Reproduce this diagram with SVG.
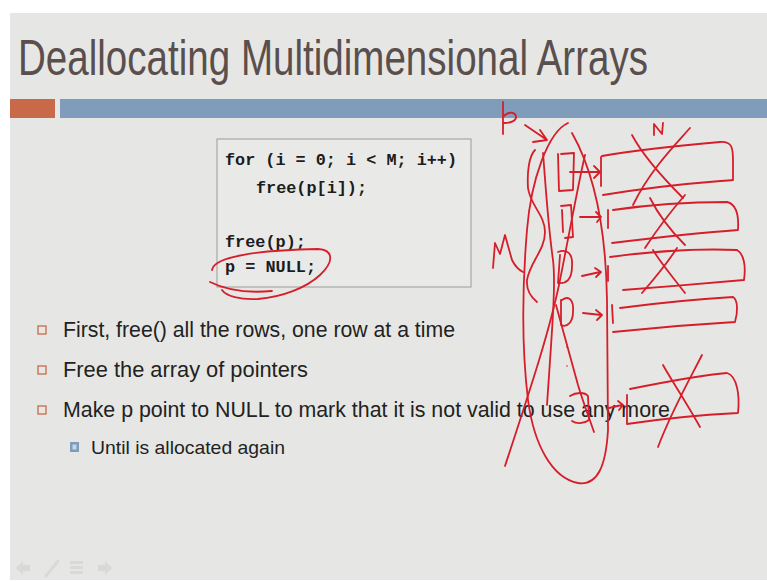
<svg xmlns="http://www.w3.org/2000/svg" width="767" height="581" viewBox="0 0 767 581">
  <style>
    .title { font-family: "Liberation Sans", Arial, sans-serif; font-size: 50px; fill: #5a4f4c; }
    .code { font-family: "Liberation Mono", "Courier New", monospace; font-size: 17px; font-weight: bold; fill: #1c1c1c; }
    .body { font-family: "Liberation Sans", Arial, sans-serif; font-size: 22px; fill: #222; }
    .sub { font-family: "Liberation Sans", Arial, sans-serif; font-size: 19px; fill: #222; }
    .bullet { fill: none; stroke: #c8694a; stroke-width: 1.3; }
    .ink { fill: none; stroke: #d61e2a; stroke-width: 1.8; stroke-linecap: round; stroke-linejoin: round; }
    .nav { fill: #d9dad8; }
  </style>

  <!-- page and slide background -->
  <rect x="0" y="0" width="767" height="581" fill="#ffffff"/>
  <rect x="10" y="13" width="757" height="567" fill="#e6e7e4"/>

  <g id="title">
    <!-- condensed heading: horizontally scaled so it spans x 18..648 -->
    <text class="title" transform="matrix(0.75 0 0 1 18 75)" x="0" y="0" textLength="840" lengthAdjust="spacingAndGlyphs">Deallocating Multidimensional Arrays</text>
  </g>

  <g id="header-bars">
    <rect x="10" y="99" width="45" height="19" fill="#c8694a"/>
    <rect x="60" y="99" width="707" height="19" fill="#7f9dba"/>
  </g>

  <g id="code-box">
    <rect x="217" y="139" width="254" height="148" fill="#e9eae8" stroke="#9a9a9a" stroke-width="1"/>
    <text class="code" x="225" y="165" textLength="232" lengthAdjust="spacingAndGlyphs">for (i = 0; i &lt; M; i++)</text>
    <text class="code" x="256" y="193" textLength="111" lengthAdjust="spacingAndGlyphs">free(p[i]);</text>
    <text class="code" x="225" y="247" textLength="81" lengthAdjust="spacingAndGlyphs">free(p);</text>
    <text class="code" x="225" y="272" textLength="91" lengthAdjust="spacingAndGlyphs">p = NULL;</text>
  </g>

  <g id="bullets">
    <rect class="bullet" x="38" y="326" width="8" height="8"/>
    <text class="body" x="63" y="337" textLength="392" lengthAdjust="spacingAndGlyphs">First, free() all the rows, one row at a time</text>
    <rect class="bullet" x="38" y="366" width="8" height="8"/>
    <text class="body" x="63" y="377" textLength="245" lengthAdjust="spacingAndGlyphs">Free the array of pointers</text>
    <rect class="bullet" x="38" y="406" width="8" height="8"/>
    <text class="body" x="63" y="417" textLength="607" lengthAdjust="spacingAndGlyphs">Make p point to NULL to mark that it is not valid to use any more</text>
    <rect x="70" y="442" width="9" height="10" fill="#7f9dba"/>
    <rect x="72.5" y="444.5" width="4" height="5" fill="#c9d5e2"/>
    <text class="sub" x="91" y="454" textLength="194" lengthAdjust="spacingAndGlyphs">Until is allocated again</text>
  </g>

  <g id="nav-icons">
    <path class="nav" d="M16,568 L23,561 L23,565 L30,565 L30,571 L23,571 L23,575 Z"/>
    <path d="M46,576 L58,561" stroke="#d9dad8" stroke-width="3" stroke-linecap="round"/>
    <rect class="nav" x="70" y="561" width="13" height="3"/>
    <rect class="nav" x="70" y="566" width="13" height="3"/>
    <rect class="nav" x="70" y="571" width="13" height="3"/>
    <path class="nav" d="M112,568 L105,561 L105,565 L98,565 L98,571 L105,571 L105,575 Z"/>
  </g>

  <!-- hand-drawn red annotations -->
  <g id="null-circle">
    <path class="ink" d="M212,270 C214,256 262,250 318,249 C334,250 334,262 320,275 C306,288 282,297 258,299 C240,300 226,296 222,290"/>
    <path class="ink" d="M210,282 C228,291 250,293 272,291"/>
  </g>

  <g id="pointer-label">
    <path class="ink" d="M503,102 L503,134 M503,117 C507,112 514,111 516,116 C517,121 510,123 504,123"/>
    <path class="ink" d="M525,125 L547,140 M533,142 L547,140 L540,130"/>
  </g>

  <g id="dimension-labels">
    <path class="ink" d="M493,268 L495,243 L500,254 L505,235 L512,260 C515,266 519,270 523,272"/>
    <path class="ink" d="M654,135 L654,124 L662,134 L663,123"/>
  </g>

  <g id="pointer-array">
    <!-- enclosing oval -->
    <path class="ink" d="M568,123 C548,132 531,180 527,230 C522,290 522,350 528,400 C534,445 552,478 578,483 C598,486 606,465 608,430 L607,300 C606,230 594,172 572,133"/>
    <!-- wavy bracket -->
    <path class="ink" d="M535,150 C529,156 527,172 528,188 C530,205 545,215 545,232 C545,250 530,262 527,280 C526,292 532,298 537,302"/>
    <!-- array edges -->
    <path class="ink" d="M543,153 C546,190 548,225 553,260 C556,285 552,330 547,405"/>
    <!-- cells -->
    <path class="ink" d="M561,154 L574,153 L573,190 L559,191 L558,154"/>
    <path class="ink" d="M561,206 L571,205 L573,237 L565,238 M562,210 L563,232"/>
    <path class="ink" d="M558,252 C566,249 573,252 572,266 C572,280 566,284 558,283 M560,255 L558,283"/>
    <path class="ink" d="M562,300 C569,295 574,300 573,312 C573,322 567,328 561,325 L561,300"/>
    <circle cx="567" cy="347" r="0.8" fill="#d61e2a"/>
    <circle cx="567" cy="366" r="0.8" fill="#d61e2a"/>
    <path class="ink" d="M570,396 C576,392 585,392 588,396 L589,420 C584,424 576,424 572,421"/>
    <!-- large cross over the array -->
    <path class="ink" d="M585,155 C578,185 570,230 560,280 C550,330 530,390 505,466"/>
    <path class="ink" d="M556,305 C563,330 570,355 578,385 C584,405 590,420 594,432"/>
  </g>

  <g id="connectors">
    <path class="ink" d="M570,172 L600,172 M594,166 L600,172 L594,178"/>
    <path class="ink" d="M580,217 L600,217 M596,212 L601,217 L597,222"/>
    <path class="ink" d="M582,276 L600,272 M595,268 L601,272 L596,277"/>
    <path class="ink" d="M583,313 L601,315 M596,310 L602,315 L597,320"/>
    <path class="ink" d="M609,408 L622,405 M618,401 L623,405 L619,410"/>
  </g>

  <g id="rows">
    <g id="row-1">
      <path class="ink" d="M601,157 L601,186"/>
      <path class="ink" d="M602,156 C625,152 665,147 720,142 C732,141 733,148 733,160 L733,180 C710,182 670,184 603,195"/>
      <path class="ink" d="M632,135 C640,150 655,170 683,198 M690,128 C675,145 650,170 633,205"/>
    </g>
    <g id="row-2">
      <path class="ink" d="M608,210 L608,228"/>
      <path class="ink" d="M613,210 C640,206 680,202 727,202 C736,204 739,215 738,230 C710,232 670,236 612,243"/>
      <path class="ink" d="M650,198 C657,212 670,230 685,245 M685,195 C672,210 658,228 645,248"/>
    </g>
    <g id="row-3">
      <path class="ink" d="M608,266 L608,281"/>
      <path class="ink" d="M610,257 C640,253 690,248 737,250 C744,254 746,266 744,280 C710,283 660,287 623,290"/>
      <path class="ink" d="M653,250 C660,262 672,276 685,293 M677,248 C668,262 655,278 642,293"/>
    </g>
    <g id="row-4">
      <path class="ink" d="M612,305 L613,323"/>
      <path class="ink" d="M620,308 C650,304 700,299 733,297 C738,300 738,312 735,322 C700,324 660,327 613,332"/>
    </g>
    <g id="row-5">
      <path class="ink" d="M627,395 L627,423"/>
      <path class="ink" d="M630,389 C660,383 700,375 727,373 C737,376 740,395 738,413 C700,415 660,419 627,424"/>
      <path class="ink" d="M663,365 C670,378 685,400 700,427 M702,355 C692,375 672,410 658,447"/>
    </g>
  </g>
</svg>
